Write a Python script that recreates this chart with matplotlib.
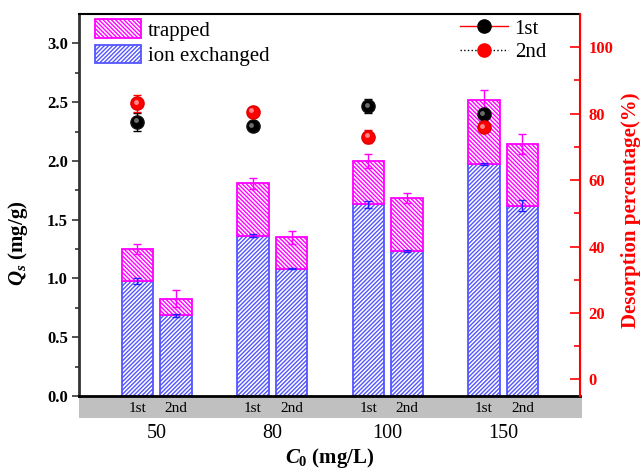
import matplotlib
matplotlib.use('Agg')
import matplotlib.pyplot as plt
import matplotlib.transforms as mtransforms
from matplotlib.patches import Rectangle
from matplotlib.lines import Line2D
import numpy as np

plt.rcParams['font.family'] = ['Liberation Serif', 'DejaVu Serif']
plt.rcParams['mathtext.fontset'] = 'custom'
plt.rcParams['mathtext.rm'] = 'Liberation Serif:bold'
plt.rcParams['mathtext.it'] = 'Liberation Serif:italic:bold'
plt.rcParams['mathtext.bf'] = 'Liberation Serif:bold'
plt.rcParams['hatch.linewidth'] = 1.0

# ---- data ----
concentrations = ['50', '80', '100', '150']
cycles = ['1st', '2nd']
ion_1st = [0.975, 1.365, 1.630, 1.973]
ion_1st_err = [0.025, 0.012, 0.032, 0.008]
ion_2nd = [0.688, 1.083, 1.230, 1.620]
ion_2nd_err = [0.012, 0.006, 0.008, 0.05]
total_1st = [1.250, 1.810, 1.998, 2.520]
total_1st_err = [0.042, 0.045, 0.058, 0.085]
total_2nd = [0.826, 1.350, 1.684, 2.140]
total_2nd_err = [0.072, 0.055, 0.045, 0.085]
desorb_1st = [77.5, 76.2, 82.3, 79.8]
desorb_1st_err = [2.6, 0.8, 2.2, 1.0]
desorb_2nd = [83.1, 80.5, 73.1, 75.9]
desorb_2nd_err = [2.6, 0.8, 2.0, 1.0]

trapped_1st = [t - i for t, i in zip(total_1st, ion_1st)]
trapped_2nd = [t - i for t, i in zip(total_2nd, ion_2nd)]

fig = plt.figure(figsize=(6.41, 4.69), dpi=100)
ax = fig.add_axes([79/641, 1 - 396/469, 501/641, 382/469])
ax2 = ax.twinx()

groups = np.arange(len(concentrations))
off = 0.167
w = 0.273
x1 = groups - off
x2 = groups + off

blue = '#2020ff'
blue_edge = '#5555ff'
mag = '#ff00ff'
hatch_ion = '////////'
hatch_tr = '\\' * 8

ion_bars = ax.bar(x1, ion_1st, w, color='white', edgecolor=blue_edge, hatch=hatch_ion, lw=1.3, zorder=2)
ax.bar(x2, ion_2nd, w, color='white', edgecolor=blue_edge, hatch=hatch_ion, lw=1.3, zorder=2)
tr_bars = ax.bar(x1, trapped_1st, w, bottom=ion_1st, color='white', edgecolor=mag, hatch=hatch_tr, lw=1.3, zorder=2)
ax.bar(x2, trapped_2nd, w, bottom=ion_2nd, color='white', edgecolor=mag, hatch=hatch_tr, lw=1.3, zorder=2)

ekw = dict(fmt='none', capsize=3, elinewidth=1.0, capthick=1.0, zorder=3)
ax.errorbar(x1, ion_1st, yerr=ion_1st_err, ecolor=blue, **ekw)
ax.errorbar(x2, ion_2nd, yerr=ion_2nd_err, ecolor=blue, **ekw)
ax.errorbar(x1, total_1st, yerr=total_1st_err, ecolor=mag, **ekw)
ax.errorbar(x2, total_2nd, yerr=total_2nd_err, ecolor=mag, **ekw)

ax.set_xlim(-0.673, 3.665)
ax.set_ylim(0, 3.25)
ax.set_yticks(np.arange(0, 3.01, 0.5))
ax.set_yticks(np.arange(0.25, 3.1, 0.5), minor=True)
ax.yaxis.set_major_formatter(matplotlib.ticker.FormatStrFormatter('%.1f'))
ax.tick_params(axis='y', which='major', direction='out', length=5, width=1.2, labelsize=12, pad=3, color='#333333')
ax.tick_params(axis='y', which='minor', direction='out', length=3, width=1.2, color='#333333')
for lab in ax.get_yticklabels():
    lab.set_fontweight('bold')

ax.set_xticks(groups)
ax.set_xticklabels(concentrations, fontsize=14.5)
ax.tick_params(axis='x', length=0, pad=20)

# grey band with cycle labels
band_h = 22 / 382
ax.add_patch(Rectangle((0, -band_h), 1.003, band_h, transform=ax.transAxes,
                       facecolor='#c0c0c0', edgecolor='none', clip_on=False, zorder=0))
tr = ax.get_xaxis_transform()
for xa, xb in zip(x1, x2):
    ax.text(xa, -band_h / 2 - 0.004, cycles[0], transform=tr, ha='center', va='center', fontsize=11)
    ax.text(xb, -band_h / 2 - 0.004, cycles[1], transform=tr, ha='center', va='center', fontsize=11)

ax.set_xlabel(r'$C_{\mathit{0}}$ (mg/L)', fontsize=15, fontweight='bold', labelpad=2)
ax.set_ylabel(r'$Q_s$ (mg/g)', fontsize=15, fontweight='bold')
ax.yaxis.set_label_coords(-0.098, 0.40)

ax.spines['left'].set_color('#333333')
ax.spines['left'].set_linewidth(2)
ax.spines['bottom'].set_linewidth(2)
ax.spines['top'].set_linewidth(1.5)
ax2.spines['right'].set_color('red')
ax2.spines['right'].set_linewidth(1.5)
ax2.spines['left'].set_visible(False)
ax2.spines['top'].set_visible(False)
ax2.spines['bottom'].set_visible(False)

# desorption percentages
ax2.set_ylim(-5, 110)
ax2.set_yticks(np.arange(0, 101, 20))
ax2.set_yticks(np.arange(10, 101, 20), minor=True)
ax2.tick_params(axis='y', which='major', direction='in', length=7, width=1.2, colors='red', labelsize=12, pad=6)
ax2.tick_params(axis='y', which='minor', direction='in', length=4, width=1.2, colors='red')
for lab in ax2.get_yticklabels():
    lab.set_fontweight('bold')
ax2.set_ylabel('Desorption percentage(%)', color='red', fontsize=15, fontweight='bold')
ax2.yaxis.set_label_coords(1.082, 0.486)

ax2.errorbar(x1, desorb_1st, yerr=desorb_1st_err, fmt='none', ecolor='black', capsize=3, elinewidth=1, zorder=4)
ax2.errorbar(x1, desorb_2nd, yerr=desorb_2nd_err, fmt='none', ecolor='red', capsize=3, elinewidth=1, zorder=4)
ax2.plot(x1, desorb_1st, ls='none', marker='o', ms=9.5, mfc='black', mec='#111111', zorder=5)
ax2.plot(x1, desorb_2nd, ls='none', marker='o', ms=9.5, mfc='#ff0000', mec='#dd0000', zorder=5)
hl = mtransforms.offset_copy(ax2.transData, fig=fig, x=-1.5, y=1.5, units='dots')
ax2.plot(x1, desorb_1st, ls='none', marker='o', ms=3.5, mfc='#888888', mec='none', alpha=0.8, transform=hl, zorder=6)
ax2.plot(x1, desorb_2nd, ls='none', marker='o', ms=3.5, mfc='#ffaaaa', mec='none', alpha=0.8, transform=hl, zorder=6)

# legends
leg1 = ax.legend([tr_bars, ion_bars], ['trapped', 'ion exchanged'], loc='upper left',
                 bbox_to_anchor=(0.012, 1.014), frameon=False, fontsize=15,
                 handlelength=2.2, handleheight=1.0, handletextpad=0.3, labelspacing=0.2,
                 borderaxespad=0.1)
h1 = Line2D([], [], color='red', ls='-', lw=1, marker='o', ms=9.5, mfc='black', mec='black')
h2 = Line2D([], [], color='black', ls=':', lw=1, marker='o', ms=9.5, mfc='red', mec='red')
ax2.legend([h1, h2], ['1st', '2nd'], loc='upper right', bbox_to_anchor=(0.953, 1.014), frameon=False,
           fontsize=15, handlelength=2.3, handletextpad=0.3, labelspacing=0.2, borderaxespad=0.1)

fig.savefig('out.png', dpi=100)
